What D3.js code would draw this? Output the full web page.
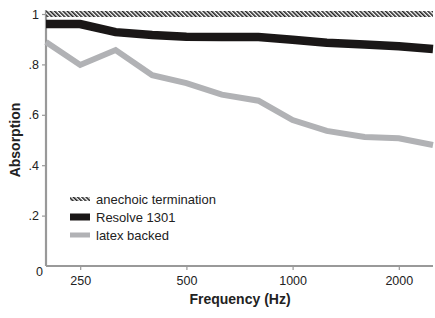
<!DOCTYPE html>
<html>
<head>
<meta charset="utf-8">
<script src="https://cdn.jsdelivr.net/npm/d3@7"></script>
<style>
body { margin: 0; background: #fff; }
text { font-family: "Liberation Sans", Arial, sans-serif; }
</style>
</head>
<body>
<div id="chart"></div>
<script>
// third-octave bands
var freqs = [200, 250, 315, 400, 500, 630, 800, 1000, 1250, 1600, 2000, 2500];
var anechoic = [1, 1, 1, 1, 1, 1, 1, 1, 1, 1, 1, 1];
var resolve = [0.96, 0.96, 0.928, 0.917, 0.91, 0.909, 0.909, 0.898, 0.886, 0.879, 0.872, 0.861];
var latex = [0.889, 0.798, 0.857, 0.757, 0.726, 0.68, 0.656, 0.579, 0.536, 0.512, 0.507, 0.48];
var xTicks = [250, 500, 1000, 2000];
var yTicks = [0, 0.2, 0.4, 0.6, 0.8, 1];
var legendNames = ["anechoic termination", "Resolve 1301", "latex backed"];

var W = 435, H = 318;
var svg = d3.select("#chart").append("svg")
    .attr("width", W)
    .attr("height", H);

var defs = svg.append("defs");
var pat = defs.append("pattern")
    .attr("id", "hatch")
    .attr("patternUnits", "userSpaceOnUse")
    .attr("width", 3)
    .attr("height", 3)
    .attr("patternTransform", "rotate(-45)");
pat.append("rect").attr("width", 3).attr("height", 3).attr("fill", "#fff");
pat.append("rect").attr("width", 1.6).attr("height", 3).attr("fill", "#222");

var x = d3.scaleLog().domain([200, 2500]).range([46, 433]);
var y = d3.scaleLinear().domain([0, 1]).range([266, 14]);

var axisColor = "#999";

// y axis
var yAxis = svg.append("g")
    .attr("transform", "translate(46,0)")
    .call(d3.axisLeft(y).tickValues(yTicks).tickSize(4).tickPadding(3)
        .tickFormat(function(d) { return d == 0 ? "0" : (d == 1 ? "1" : d3.format(".1f")(d).replace(/^0/, "")); }));
yAxis.select(".domain").remove();
yAxis.selectAll("line").attr("stroke", axisColor).attr("stroke-width", 1.2);
yAxis.selectAll("text").style("font-size", "12.5px").attr("fill", "#222");
yAxis.selectAll(".tick").filter(function(d) { return d == 0; })
    .select("line").remove();
yAxis.selectAll(".tick").filter(function(d) { return d == 0; })
    .select("text").attr("dy", "0.75em").attr("x", -3);

// x axis
var xAxis = svg.append("g")
    .attr("transform", "translate(0,266)")
    .call(d3.axisBottom(x).tickValues(xTicks).tickSize(4).tickPadding(6)
        .tickFormat(d3.format("d")));
xAxis.select(".domain").remove();
xAxis.selectAll("line").attr("stroke", axisColor).attr("stroke-width", 1.2);
xAxis.selectAll("text").style("font-size", "12.5px").attr("fill", "#222");

// axis lines
svg.append("line")
    .attr("x1", 46).attr("x2", 46).attr("y1", 10).attr("y2", 266)
    .attr("stroke", axisColor).attr("stroke-width", 2.2);
svg.append("line")
    .attr("x1", 46).attr("x2", 433).attr("y1", 266).attr("y2", 266)
    .attr("stroke", axisColor).attr("stroke-width", 2.2);

var line = d3.line()
    .x(function(d, i) { return x(freqs[i]); })
    .y(function(d) { return y(d); });

svg.append("path")
    .datum(latex)
    .attr("d", line)
    .attr("fill", "none")
    .attr("stroke", "#b1b2b5")
    .attr("stroke-width", 6);

svg.append("path")
    .datum(resolve)
    .attr("d", line)
    .attr("fill", "none")
    .attr("stroke", "#1a1717")
    .attr("stroke-width", 8.5);

svg.append("path")
    .datum(anechoic)
    .attr("d", line)
    .attr("fill", "none")
    .attr("stroke", "url(#hatch)")
    .attr("stroke-width", 6);

// axis titles
svg.append("text")
    .attr("x", 240).attr("y", 304)
    .attr("text-anchor", "middle")
    .style("font-size", "14px")
    .style("font-weight", "bold")
    .attr("fill", "#222")
    .text("Frequency (Hz)");

svg.append("text")
    .attr("transform", "translate(20,140) rotate(-90)")
    .attr("text-anchor", "middle")
    .style("font-size", "14px")
    .style("font-weight", "bold")
    .attr("fill", "#222")
    .text("Absorption");

// legend
var lg = svg.append("g").attr("transform", "translate(70,199)");
var swFill = ["url(#hatch)", "#1a1717", "#b1b2b5"];
var swH = [4, 7, 5];
legendNames.forEach(function(name, i) {
    var yy = i * 18;
    lg.append("rect")
        .attr("x", 0).attr("y", yy - swH[i] / 2)
        .attr("width", 20).attr("height", swH[i])
        .attr("fill", swFill[i]);
    lg.append("text")
        .attr("x", 26).attr("y", yy)
        .attr("dy", "0.35em")
        .style("font-size", "13px")
        .attr("fill", "#222")
        .text(name);
});
</script>
</body>
</html>
